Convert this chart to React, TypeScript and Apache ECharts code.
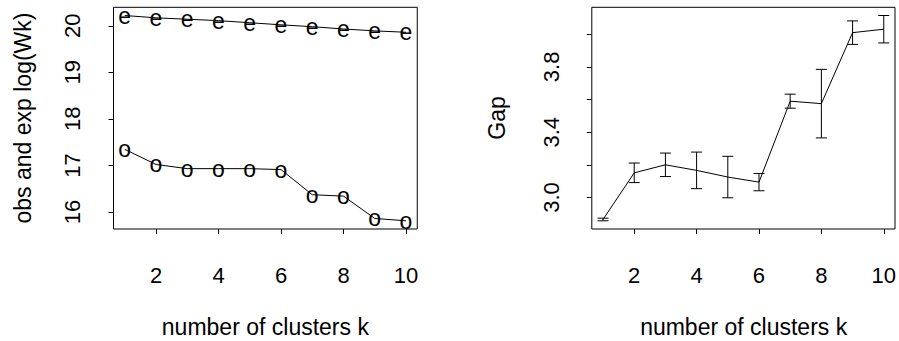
import React, { useEffect, useRef } from "react";
import * as echarts from "echarts";

const kValues = [1, 2, 3, 4, 5, 6, 7, 8, 9, 10];
const expLogW = [20.22, 20.17, 20.14, 20.11, 20.065, 20.02, 19.98, 19.93, 19.89, 19.86];
const obsLogW = [17.345, 17.02, 16.93, 16.93, 16.93, 16.91, 16.37, 16.34, 15.86, 15.81];
const gapValues = [2.865, 3.151, 3.2, 3.166, 3.125, 3.094, 3.59, 3.575, 4.01, 4.031];
const gapSE = [0.008, 0.06, 0.072, 0.112, 0.127, 0.053, 0.043, 0.21, 0.072, 0.084];
const xTicks = [2, 4, 6, 8, 10];
const leftYTicks = [16, 17, 18, 19, 20];
const rightYTicks = [3.0, 3.2, 3.4, 3.6, 3.8, 4.0];
const rightYLabels = [3.0, 3.4, 3.8];
const xTitle = "number of clusters k";
const leftYTitle = "obs and exp log(Wk)";
const rightYTitle = "Gap";

const FONT = "'Liberation Sans', Arial, Helvetica, sans-serif";

function padRange(vals: number[]) {
  const lo = Math.min(...vals);
  const hi = Math.max(...vals);
  const p = 0.04 * (hi - lo);
  return [lo - p, hi + p];
}

export default function App() {
  const ref = useRef<HTMLDivElement>(null);
  useEffect(() => {
    if (!ref.current) return;
    const chart = echarts.init(ref.current, undefined, { renderer: "svg" });
    const [xMin, xMax] = padRange(kValues);
    const [lyMin, lyMax] = padRange([...expLogW, ...obsLogW]);
    const lows = gapValues.map((g, i) => g - gapSE[i]);
    const highs = gapValues.map((g, i) => g + gapSE[i]);
    const [ryMin, ryMax] = padRange([...lows, ...highs]);

    const grids = [
      { left: 113.5, top: 7.3, width: 303.75, height: 221.7 },
      { left: 591.8, top: 7.3, width: 303.75, height: 221.7 },
    ];

    const xAxisBase = (gi: number) => ({
      type: "value",
      gridIndex: gi,
      min: xMin,
      max: xMax,
      axisLine: { show: false },
      splitLine: { show: false },
      axisTick: {
        show: true,
        length: 5,
        customValues: xTicks,
        lineStyle: { color: "#000", width: 1 },
      },
      axisLabel: {
        customValues: xTicks,
        fontSize: 22,
        fontFamily: FONT,
        color: "#000",
        margin: 35,
      },
    });

    const textMarker = (ch: string) => ({
      show: true,
      position: "inside",
      formatter: ch,
      fontSize: 23,
      fontFamily: FONT,
      color: "#000",
    });

    chart.setOption({
      animation: false,
      backgroundColor: "#fff",
      grid: grids.map((g) => ({
        ...g,
        show: true,
        borderColor: "#000",
        borderWidth: 1,
        backgroundColor: "transparent",
        containLabel: false,
      })),
      xAxis: [xAxisBase(0), xAxisBase(1)],
      yAxis: [
        {
          type: "value",
          gridIndex: 0,
          min: lyMin,
          max: lyMax,
          axisLine: { show: false },
          splitLine: { show: false },
          axisTick: {
            show: true,
            length: 5,
            customValues: leftYTicks,
            lineStyle: { color: "#000", width: 1 },
          },
          axisLabel: {
            customValues: leftYTicks,
            rotate: 90,
            fontSize: 22,
            fontFamily: FONT,
            color: "#000",
            margin: 30,
          },
        },
        {
          type: "value",
          gridIndex: 1,
          min: ryMin,
          max: ryMax,
          axisLine: { show: false },
          splitLine: { show: false },
          axisTick: {
            show: true,
            length: 5,
            customValues: rightYTicks,
            lineStyle: { color: "#000", width: 1 },
          },
          axisLabel: {
            customValues: rightYLabels,
            rotate: 90,
            fontSize: 22,
            fontFamily: FONT,
            color: "#000",
            margin: 29,
            formatter: (v: number) => v.toFixed(1),
          },
        },
      ],
      series: [
        {
          type: "line",
          xAxisIndex: 0,
          yAxisIndex: 0,
          data: kValues.map((k, i) => [k, expLogW[i]]),
          symbol: "circle",
          symbolSize: 1,
          itemStyle: { color: "rgba(0,0,0,0)" },
          lineStyle: { color: "#000", width: 1 },
          label: textMarker("e"),
          silent: true,
        },
        {
          type: "line",
          xAxisIndex: 0,
          yAxisIndex: 0,
          data: kValues.map((k, i) => [k, obsLogW[i]]),
          symbol: "circle",
          symbolSize: 1,
          itemStyle: { color: "rgba(0,0,0,0)" },
          lineStyle: { color: "#000", width: 1 },
          label: textMarker("o"),
          silent: true,
        },
        {
          type: "line",
          xAxisIndex: 1,
          yAxisIndex: 1,
          data: kValues.map((k, i) => [k, gapValues[i]]),
          symbol: "none",
          lineStyle: { color: "#000", width: 1 },
          silent: true,
        },
        {
          type: "custom",
          xAxisIndex: 1,
          yAxisIndex: 1,
          data: kValues.map((k, i) => [k, lows[i], highs[i]]),
          encode: { x: 0, y: [1, 2] },
          silent: true,
          renderItem: (params: any, api: any) => {
            const x = api.value(0);
            const pLo = api.coord([x, api.value(1)]);
            const pHi = api.coord([x, api.value(2)]);
            const hw = 5.5;
            const st = { stroke: "#000", lineWidth: 1 };
            return {
              type: "group",
              children: [
                { type: "line", shape: { x1: pLo[0], y1: pLo[1], x2: pHi[0], y2: pHi[1] }, style: st },
                { type: "line", shape: { x1: pLo[0] - hw, y1: pLo[1], x2: pLo[0] + hw, y2: pLo[1] }, style: st },
                { type: "line", shape: { x1: pHi[0] - hw, y1: pHi[1], x2: pHi[0] + hw, y2: pHi[1] }, style: st },
              ],
            };
          },
        },
      ],
      graphic: [
        {
          type: "text",
          x: 113.5 + 303.75 / 2,
          y: 327,
          style: { text: xTitle, font: `23px ${FONT}`, fill: "#000", align: "center", verticalAlign: "middle" },
        },
        {
          type: "text",
          x: 591.8 + 303.75 / 2,
          y: 327,
          style: { text: xTitle, font: `23px ${FONT}`, fill: "#000", align: "center", verticalAlign: "middle" },
        },
        {
          type: "text",
          x: 22.5,
          y: 118,
          rotation: Math.PI / 2,
          style: { text: leftYTitle, font: `23px ${FONT}`, fill: "#000", align: "center", verticalAlign: "middle" },
        },
        {
          type: "text",
          x: 497,
          y: 118,
          rotation: Math.PI / 2,
          style: { text: rightYTitle, font: `23px ${FONT}`, fill: "#000", align: "center", verticalAlign: "middle" },
        },
      ],
    });
    return () => chart.dispose();
  }, []);
  return (
    <div
      ref={ref}
      style={{ position: "fixed", left: 0, top: 0, width: 899, height: 341, background: "#fff" }}
    />
  );
}
